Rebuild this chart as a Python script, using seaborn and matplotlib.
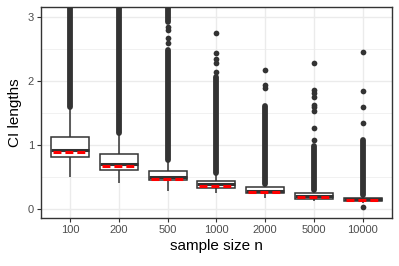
import pandas as pd
import matplotlib.pyplot as plt
import seaborn as sns
from matplotlib.ticker import MultipleLocator

# values
sizes = ['100', '200', '500', '1000', '2000', '5000', '10000']
whisker_low = [0.51, 0.41, 0.29, 0.25, 0.18, 0.13, 0.10]
q1 = [0.81, 0.61, 0.45, 0.33, 0.25, 0.16, 0.12]
median = [0.93, 0.70, 0.51, 0.39, 0.29, 0.21, 0.16]
q3 = [1.13, 0.86, 0.59, 0.44, 0.34, 0.25, 0.18]
whisker_high = [1.60, 1.19, 0.77, 0.57, 0.40, 0.30, 0.22]
red_line = [0.90, 0.68, 0.47, 0.36, 0.27, 0.19, 0.15]

# outliers: dense runs (start, end) and single points
dense_runs = [
    [(1.60, 3.30)],
    [(1.19, 3.30)],
    [(0.77, 2.49), (2.93, 3.30)],
    [(0.57, 2.07)],
    [(0.40, 1.61)],
    [(0.30, 0.98)],
    [(0.22, 1.08)],
]
single_points = [
    [],
    [],
    [2.59, 2.67, 2.80, 2.85],
    [2.15, 2.28, 2.34, 2.44, 2.75],
    [1.89, 1.94, 2.18],
    [1.08, 1.27, 1.54, 1.59, 1.63, 1.76, 1.81, 1.86, 2.28],
    [1.35, 1.59, 1.85, 2.45, 0.03],
]

rows = []
for s, a, b, c, d, e in zip(sizes, whisker_low, q1, median, q3, whisker_high):
    for v in (a, b, c, d, e):
        rows.append({'n': s, 'length': v})
df = pd.DataFrame(rows)

sns.set_theme(style='white')
plt.rcParams['font.family'] = ['Liberation Sans', 'DejaVu Sans']

fig, ax = plt.subplots(figsize=(3.99, 2.66), dpi=100)
fig.subplots_adjust(left=0.103, right=0.982, top=0.974, bottom=0.180)

dark = '#333333'
box_w = 0.78

sns.boxplot(data=df, x='n', y='length', order=sizes, ax=ax,
            whis=(0, 100), width=box_w, color='white', linecolor=dark,
            linewidth=1.1, fliersize=0, saturation=1, showcaps=False,
            medianprops=dict(linewidth=2.2, color=dark), zorder=3)

# outliers
for i, runs in enumerate(dense_runs):
    for lo, hi in runs:
        ax.vlines(i, lo, hi, color=dark, linewidth=4.2,
                  capstyle='round', zorder=4)
    if single_points[i]:
        ax.scatter([i] * len(single_points[i]), single_points[i],
                   s=17, color=dark, linewidths=0, zorder=4)

# red dashed line in each box
for i, v in enumerate(red_line):
    ax.hlines(v, i - box_w / 2 + 0.04, i + box_w / 2 - 0.04, color='red',
              linewidth=2.2, linestyle=(0, (2.6, 1.3)), zorder=5)

ax.set_xlim(-0.6, len(sizes) - 0.4)
ax.set_ylim(-0.14, 3.16)
ax.yaxis.set_major_locator(MultipleLocator(1))
ax.yaxis.set_minor_locator(MultipleLocator(0.5))

ax.grid(True, which='major', color='#EBEBEB', linewidth=1.0, zorder=0)
ax.grid(True, which='minor', axis='y', color='#EBEBEB', linewidth=0.5,
        zorder=0)
ax.set_axisbelow(True)

for sp in ax.spines.values():
    sp.set_color(dark)
    sp.set_linewidth(1.0)

ax.tick_params(axis='both', which='major', length=3, width=0.8,
               color=dark, labelcolor='#4D4D4D', labelsize=8, pad=2,
               bottom=True, left=True)
ax.tick_params(axis='y', which='minor', length=0)

ax.set_xlabel('sample size n', fontsize=11, color='black', labelpad=3)
ax.set_ylabel('CI lengths', fontsize=11, color='black', labelpad=4)

fig.savefig('out.png', dpi=100)
